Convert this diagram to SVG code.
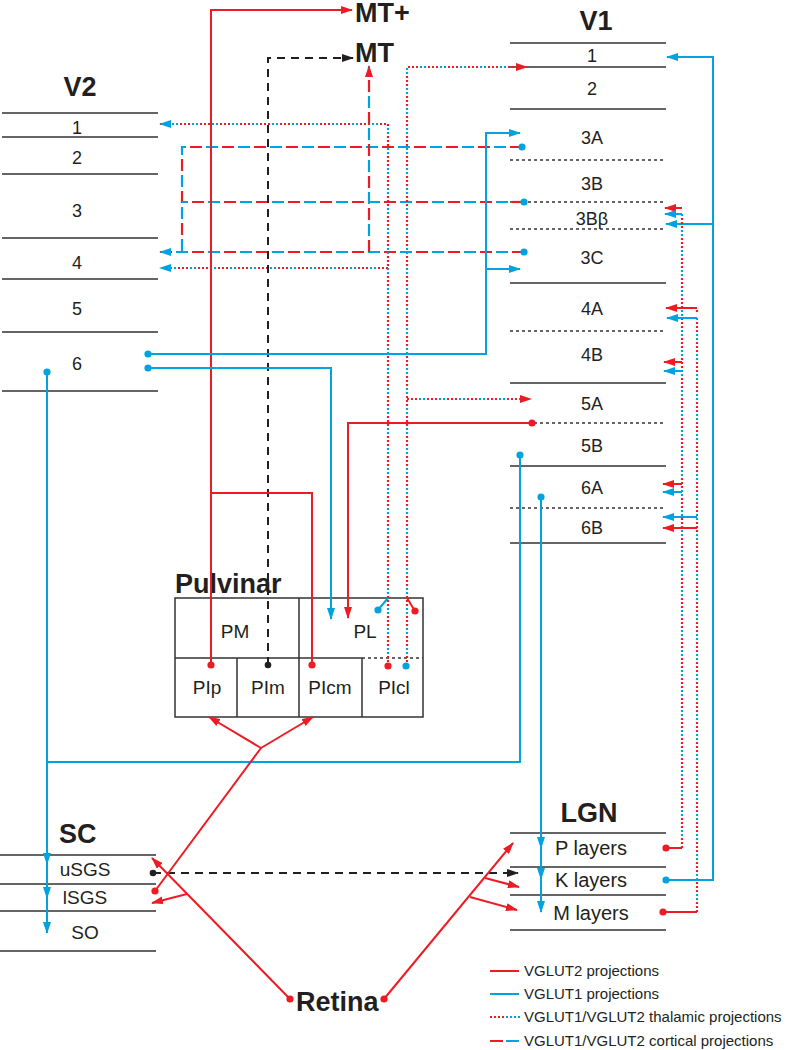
<svg xmlns="http://www.w3.org/2000/svg" width="788" height="1050" viewBox="0 0 788 1050">
<style>
.t{font-family:"Liberation Sans",Arial,sans-serif;fill:#231f20}
.ttl{font-size:27px;font-weight:bold}
.lab{font-size:18px;text-anchor:middle}
.lab2{font-size:19px;text-anchor:middle}
.lab3{font-size:20px;text-anchor:middle}
.lg{font-size:15px}
.ln{stroke:#333;stroke-width:1.5;fill:none}
.dl{stroke:#333;stroke-width:1.5;fill:none;stroke-dasharray:3 3}
.r{stroke:#ed1c24;stroke-width:2;fill:none}
.b{stroke:#00a3e0;stroke-width:2;fill:none}
.k{stroke:#231f20;stroke-width:2;fill:none;stroke-dasharray:8 6}
.cr{stroke:#ed1c24;stroke-width:2.2;fill:none;stroke-dasharray:12 20}
.cb{stroke:#00a3e0;stroke-width:2.2;fill:none;stroke-dasharray:12 20;stroke-dashoffset:16}
.tr{stroke:#ed1c24;stroke-width:2.2;fill:none;stroke-dasharray:2 2 2 2 2 10}
.tb{stroke:#00a3e0;stroke-width:2.2;fill:none;stroke-dasharray:2 2 2 14;stroke-dashoffset:-12}
.dr{fill:#ed1c24}.db{fill:#00a3e0}.dk{fill:#231f20}
</style>
<defs>
<marker id="ar" markerUnits="userSpaceOnUse" markerWidth="12" markerHeight="8" viewBox="0 0 12 8" refX="11" refY="4" orient="auto"><path d="M0,0 L12,4 L0,8 z" fill="#ed1c24"/></marker>
<marker id="ab" markerUnits="userSpaceOnUse" markerWidth="12" markerHeight="8" viewBox="0 0 12 8" refX="11" refY="4" orient="auto"><path d="M0,0 L12,4 L0,8 z" fill="#00a3e0"/></marker>
<marker id="ak" markerUnits="userSpaceOnUse" markerWidth="12" markerHeight="8" viewBox="0 0 12 8" refX="11" refY="4" orient="auto"><path d="M0,0 L12,4 L0,8 z" fill="#231f20"/></marker>
</defs>

<g id="MTplus"><text class="t ttl" x="355" y="22">MT+</text></g>
<g id="MT"><text class="t ttl" x="355" y="62">MT</text></g>

<g id="V1">
<text class="t ttl" x="596" y="30" text-anchor="middle">V1</text>
<path class="ln" d="M510,43H666M510,67H666M510,109H666M510,283H666M510,383H666M510,466H666M510,543H666"/>
<path class="dl" d="M510,160H666M510,202H666M510,229H666M510,331H666M510,423H666M510,508H666"/>
<text class="t lab" x="592" y="61.5">1</text>
<text class="t lab" x="592" y="94.5">2</text>
<text class="t lab" x="592" y="143.5">3A</text>
<text class="t lab" x="592" y="189.5">3B</text>
<text class="t lab" x="592" y="224.5">3Bβ</text>
<text class="t lab" x="592" y="263.5">3C</text>
<text class="t lab" x="592" y="314.5">4A</text>
<text class="t lab" x="592" y="360.5">4B</text>
<text class="t lab" x="592" y="409.5">5A</text>
<text class="t lab" x="592" y="451.5">5B</text>
<text class="t lab" x="592" y="493.5">6A</text>
<text class="t lab" x="592" y="533.5">6B</text>
</g>

<g id="V2">
<text class="t ttl" x="80" y="96" text-anchor="middle">V2</text>
<path class="ln" d="M2,113H158M2,137H158M2,174H158M2,238H158M2,279H158M2,332H158M2,391H158"/>
<text class="t lab" x="77" y="133.5">1</text>
<text class="t lab" x="77" y="163.5">2</text>
<text class="t lab" x="77" y="216.5">3</text>
<text class="t lab" x="77" y="268.5">4</text>
<text class="t lab" x="77" y="314.5">5</text>
<text class="t lab" x="77" y="369.5">6</text>
</g>

<g id="Pulvinar">
<text class="t ttl" x="175" y="593">Pulvinar</text>
<rect class="ln" x="175" y="598" width="248" height="119"/>
<path class="ln" d="M175,658H362M299,598V717M237,658V717M362,658V717"/>
<path class="dl" d="M362,658H423"/>
<text class="t lab2" x="235" y="638">PM</text>
<text class="t lab2" x="365" y="638">PL</text>
<text class="t lab2" x="207" y="694">PIp</text>
<text class="t lab2" x="268" y="694">PIm</text>
<text class="t lab2" x="330" y="694">PIcm</text>
<text class="t lab2" x="394" y="694">PIcl</text>
</g>

<g id="SC">
<text class="t ttl" x="59" y="843">SC</text>
<path class="ln" d="M0,855H156M0,884H156M0,911H156M0,951H156"/>
<text class="t lab2" x="85" y="876">uSGS</text>
<text class="t lab2" x="85" y="904">lSGS</text>
<text class="t lab2" x="85" y="939">SO</text>
</g>

<g id="LGN">
<text class="t ttl" x="589" y="822" text-anchor="middle">LGN</text>
<path class="ln" d="M510,833H666M510,867H666M510,895H666M510,930H666"/>
<text class="t lab3" x="591" y="855">P layers</text>
<text class="t lab3" x="591" y="887">K layers</text>
<text class="t lab3" x="591" y="920">M layers</text>
</g>

<g id="Retina"><text class="t ttl" x="296" y="1011">Retina</text></g>

<g id="connectors">
<path class="cr" d="M522,147H182V252"/><path class="cb" d="M522,147H182V252"/>
<path class="cr" d="M524,202H182"/><path class="cb" d="M524,202H182"/>
<path class="cr" d="M524,252H160"/><path class="cb" d="M524,252H160" marker-end="url(#ab)"/>
<path class="cb" d="M369,252V66"/><path class="cr" d="M369,252V66" marker-end="url(#ar)"/>
<circle class="db" cx="522" cy="147" r="3.6"/><circle class="db" cx="524" cy="202" r="3.6"/><circle class="db" cx="524" cy="252" r="3.6"/>

<path class="tr" d="M388,666V124H160"/><path class="tb" d="M388,666V124H160" marker-end="url(#ab)"/>
<path class="tr" d="M388,268H160"/><path class="tb" d="M388,268H160" marker-end="url(#ab)"/>
<path class="b" d="M388,598L378,610"/><circle class="db" cx="378" cy="610" r="3.6"/>
<circle class="dr" cx="388" cy="666" r="3.6"/>
<path class="tb" d="M407,666V67H527"/><path class="tr" d="M407,666V67H527" marker-end="url(#ar)"/>
<path class="tb" d="M407,399H531"/><path class="tr" d="M407,399H531" marker-end="url(#ar)"/>
<path class="r" d="M407,598L415,611"/><circle class="dr" cx="415" cy="611" r="3.6"/>
<circle class="db" cx="406" cy="666" r="3.6"/>

<path class="k" d="M268,665V58H353" marker-end="url(#ak)"/>
<circle class="dk" cx="268" cy="665" r="3.3"/>

<path class="r" d="M211,665V10H352" marker-end="url(#ar)"/>
<path class="r" d="M312,665V493H211"/>
<circle class="dr" cx="211" cy="665" r="3.6"/><circle class="dr" cx="312" cy="665" r="3.6"/>

<path class="r" d="M532,423H348V618" marker-end="url(#ar)"/>
<circle class="dr" cx="532" cy="423" r="3.6"/>

<path class="b" d="M148,354H486V133H520" marker-end="url(#ab)"/>
<path class="b" d="M486,269H520" marker-end="url(#ab)"/>
<circle class="db" cx="148" cy="354" r="3.6"/>
<path class="b" d="M148,368H331V619" marker-end="url(#ab)"/>
<circle class="db" cx="148" cy="368" r="3.6"/>
<path class="b" d="M47,372V933" marker-end="url(#ab)"/>
<path class="b" d="M47,850V864" marker-end="url(#ab)"/>
<path class="b" d="M47,885V898" marker-end="url(#ab)"/>
<circle class="db" cx="47" cy="372" r="3.6"/>
<path class="b" d="M520,455V762H47"/>
<circle class="db" cx="520" cy="455" r="3.6"/>
<path class="b" d="M541,497V912" marker-end="url(#ab)"/>
<path class="b" d="M541,835V848" marker-end="url(#ab)"/>
<path class="b" d="M541,866V879" marker-end="url(#ab)"/>
<circle class="db" cx="541" cy="497" r="3.6"/>

<path class="b" d="M666,880H713V57H667" marker-end="url(#ab)"/>
<path class="b" d="M713,224H666" marker-end="url(#ab)"/>
<circle class="db" cx="666" cy="880" r="3.6"/>

<path class="r" d="M666,848H682"/>
<path class="tr" d="M682,848V208"/><path class="tb" d="M682,848V214"/>
<path class="r" d="M682,208H665" marker-end="url(#ar)"/>
<path class="b" d="M682,214H665" marker-end="url(#ab)"/>
<path class="r" d="M682,362H664" marker-end="url(#ar)"/>
<path class="b" d="M682,371H664" marker-end="url(#ab)"/>
<path class="r" d="M682,484H663" marker-end="url(#ar)"/>
<path class="b" d="M682,492H663" marker-end="url(#ab)"/>
<circle class="dr" cx="666" cy="848" r="3.6"/>

<path class="r" d="M663,912H697"/>
<path class="tr" d="M697,912V308"/><path class="tb" d="M697,912V318"/>
<path class="r" d="M697,308H666" marker-end="url(#ar)"/>
<path class="b" d="M697,318H667" marker-end="url(#ab)"/>
<path class="b" d="M697,517H663" marker-end="url(#ab)"/>
<path class="r" d="M697,528H663" marker-end="url(#ar)"/>
<circle class="dr" cx="663" cy="912" r="3.6"/>

<path class="k" d="M153,873H518" marker-end="url(#ak)"/>
<circle class="dk" cx="153" cy="873" r="3.3"/>

<path class="r" d="M155,891L261,748L209,717" marker-end="url(#ar)"/>
<path class="r" d="M261,748L313,717" marker-end="url(#ar)"/>
<circle class="dr" cx="155" cy="891" r="3.6"/>

<path class="r" d="M290,999L152,858" marker-end="url(#ar)"/>
<path class="r" d="M187,894L152,903" marker-end="url(#ar)"/>
<circle class="dr" cx="290" cy="999" r="3.6"/>
<path class="r" d="M384,999L513,843" marker-end="url(#ar)"/>
<path class="r" d="M485,878L519,887" marker-end="url(#ar)"/>
<path class="r" d="M470,897L517,910" marker-end="url(#ar)"/>
<circle class="dr" cx="384" cy="999" r="3.6"/>
</g>

<g id="legend">
<path class="r" d="M490,971H519"/>
<path class="b" d="M490,994H519"/>
<path class="r" d="M490,1017H504" stroke-dasharray="2 2"/><path class="b" d="M506,1017H520" stroke-dasharray="2 2"/>
<path class="r" d="M490,1041H503"/><path class="b" d="M506,1041H519"/>
<text class="t lg" x="524" y="976">VGLUT2 projections</text>
<text class="t lg" x="524" y="999">VGLUT1 projections</text>
<text class="t lg" x="524" y="1022">VGLUT1/VGLUT2 thalamic projections</text>
<text class="t lg" x="524" y="1046">VGLUT1/VGLUT2 cortical projections</text>
</g>
</svg>
